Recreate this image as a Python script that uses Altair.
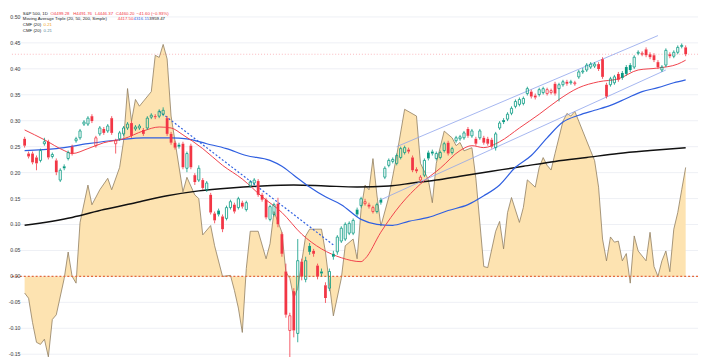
import altair as alt
import pandas as pd
import numpy as np

# ---------------- data ----------------
# daily candles (price units), index 0..167
opens = [4030,3955,3955,3935,3920,4005,4015,3940,3920,3820,
         3890,3930,3990,4020,4035,4105,4105,4145,3995,4055,
         4080,4070,4135,4005,4030,4055,4085,4110,4080,4085,
         4075,4085,4140,4145,4145,4155,4135,4055,4010,4000,
         4005,3880,3995,3845,3820,3820,3770,3745,3650,3665,
         3635,3625,3680,3695,3680,3705,3670,3790,3805,3815,
         3745,3720,3620,3645,3700,3545,3355,3055,3255,3040,
         3405,3315,3485,3460,3385,3355,3285,3270,3445,3455,
         3510,3520,3550,3550,3670,3690,3700,3695,3660,3660,
         3720,3835,3895,3915,3905,3935,3960,3975,3935,3875,
         3820,3845,3960,3965,3930,3935,3970,4010,3960,4020,
         4030,4035,4080,4045,4030,4035,4035,4030,4025,3985,
         4085,4125,4130,4160,4195,4205,4210,4260,4270,4250,
         4255,4265,4260,4265,4310,4285,4305,4320,4315,4310,
         4345,4370,4380,4395,4400,4410,4435,4305,4305,4315,
         4360,4365,4395,4405,4395,4465,4460,4485,4460,4455,
         4420,4380,4405,4460,4450,4470,4500,4495]
closes = [3995,3940,3910,3905,3970,4015,3935,3950,3860,3870,
          3880,3960,3955,4030,4070,4115,4135,4120,4035,4085,
          4060,4095,4060,4020,4060,4085,4105,4045,4090,4095,
          4055,4135,4150,4140,4170,4175,4055,4010,3985,3990,
          3885,3955,3885,3810,3880,3780,3805,3655,3615,3645,
          3570,3680,3710,3660,3725,3685,3705,3810,3820,3745,
          3720,3630,3685,3695,3595,3445,3135,3130,3055,3410,
          3330,3410,3455,3445,3330,3345,3220,3355,3430,3530,
          3575,3595,3600,3615,3645,3725,3710,3685,3680,3695,
          3705,3880,3920,3925,3945,3980,3985,3965,3870,3865,
          3835,3920,3930,3955,3955,3960,4005,3955,3980,4035,
          4040,4060,4045,4070,4005,4070,4010,4005,3990,4055,
          4110,4115,4155,4185,4220,4230,4235,4285,4245,4240,
          4280,4285,4280,4275,4260,4305,4320,4310,4320,4315,
          4370,4375,4405,4410,4410,4385,4345,4245,4335,4345,
          4330,4340,4360,4380,4445,4470,4465,4455,4445,4430,
          4395,4395,4480,4450,4470,4495,4505,4460]
highs = [4040,3965,3965,3945,3980,4035,4025,3960,3930,3880,
         3900,3970,4000,4040,4080,4125,4145,4155,4045,4095,
         4090,4105,4145,4030,4070,4095,4115,4120,4100,4105,
         4085,4145,4160,4155,4180,4190,4145,4065,4020,4010,
         4015,3965,4005,3855,3895,3830,3815,3755,3660,3675,
         3645,3690,3720,3705,3735,3715,3715,3820,3830,3825,
         3755,3730,3695,3705,3730,3555,3395,3145,3270,3520,
         3420,3430,3500,3470,3395,3370,3300,3370,3460,3540,
         3585,3605,3610,3625,3680,3735,3725,3705,3690,3705,
         3730,3890,3930,3935,3955,3990,3995,3985,3945,3885,
         3845,3930,3970,3975,3965,3970,4015,4020,3990,4045,
         4050,4070,4090,4080,4040,4080,4045,4040,4035,4065,
         4120,4135,4165,4195,4230,4240,4245,4295,4280,4260,
         4290,4295,4290,4285,4320,4315,4330,4330,4330,4325,
         4380,4390,4415,4420,4420,4420,4445,4315,4345,4355,
         4370,4375,4405,4415,4455,4480,4475,4495,4470,4465,
         4430,4405,4490,4470,4480,4505,4515,4505]
lows = [3985,3930,3900,3870,3910,3995,3925,3930,3845,3810,
        3870,3920,3945,4010,4025,4095,4095,4110,3985,4045,
        4050,4060,4050,3955,4020,4045,4075,4035,4070,4075,
        4045,4075,4130,4130,4135,4145,4045,4000,3975,3980,
        3875,3860,3875,3795,3810,3770,3760,3645,3600,3635,
        3555,3615,3670,3650,3670,3675,3660,3780,3795,3735,
        3710,3620,3610,3635,3580,3430,3120,2920,3020,2995,
        3310,3300,3440,3430,3315,3330,3195,3255,3415,3440,
        3500,3510,3540,3540,3635,3680,3690,3675,3650,3650,
        3695,3825,3885,3905,3895,3925,3950,3955,3860,3855,
        3810,3835,3920,3945,3920,3925,3960,3945,3950,4010,
        4020,4025,4035,4035,3995,4025,4000,3995,3980,3970,
        4075,4105,4120,4150,4185,4195,4200,4250,4235,4230,
        4245,4255,4250,4255,4250,4220,4295,4300,4305,4300,
        4335,4360,4370,4385,4390,4375,4335,4235,4295,4305,
        4320,4330,4350,4370,4385,4455,4450,4445,4435,4420,
        4385,4370,4395,4440,4440,4460,4490,4450]

# moving averages (bar index, price)
ma20_i = [0,5,10,12,16,20,25,30,34,37,40,45,50,55,60,65,70,75,80,85,86,90,95,100,105,
          110,113,116,120,125,130,135,140,145,150,155,160,165,167]
ma20_v = [4075,4025,3970,3955,3980,4010,4030,4070,4090,4085,4050,3980,3895,3825,3735,3655,
          3545,3470,3425,3405,3420,3555,3695,3800,3880,3970,3995,3985,4015,4085,4155,4230,
          4290,4320,4335,4380,4390,4410,4430]
ma50_i = [0,8,16,24,30,37,41,46,51,56,62,65,68,72,76,80,85,89,93,97,102,107,112,116,120,
          124,128,132,136,140,144,148,152,156,160,164,167]
ma50_v = [3970,3980,4005,4025,4035,4035,4030,4005,3980,3945,3920,3890,3845,3785,3735,3695,
          3620,3595,3590,3610,3630,3665,3695,3740,3795,3885,3945,4035,4115,4150,4175,4200,
          4235,4270,4290,4315,4330]
ma200_i = [0,12,20,28,36,44,52,60,68,76,84,92,98,104,110,118,126,134,142,150,158,167]
ma200_v = [3590,3630,3670,3705,3740,3765,3780,3790,3795,3790,3785,3790,3805,3820,3840,3865,
           3890,3915,3935,3955,3970,3985]

# Chaikin Money Flow (20) (bar index, value)
cmf_i = [0,1,2,3,4,5,6,7,8,10,11,12,13,14,16,17,19,21,22,24,25,26,27,28,29,32,33,34,35,36,
         37,40,41,43,44,45,47,48,50,52,53,54,55,56,57,59,61,62,63,65,66,67,68,69,70,71,72,75,
         76,78,80,81,83,84,85,86,87,88,89,90,92,94,96,99,100,102,103,104,106,108,109,110,111,
         113,114,116,117,119,120,121,122,123,125,126,127,129,130,131,132,133,134,136,137,138,
         139,140,141,143,144,145,146,147,148,149,150,151,152,153,154,155,157,158,159,160,161,
         162,163,164,165,166,167]
cmf_v = [-0.032,-0.042,-0.089,-0.127,-0.131,-0.121,-0.155,-0.083,-0.074,-0.004,
         0.047,0.000,-0.013,0.104,0.176,0.138,0.167,0.189,0.167,0.210,
         0.261,0.362,0.299,0.341,0.328,0.356,0.426,0.422,0.447,0.419,
         0.309,0.163,0.191,0.157,0.150,0.080,0.098,0.059,0.000,0.002,
         -0.027,-0.061,-0.108,0.015,0.087,0.087,0.034,0.063,0.125,0.085,
         0.009,-0.004,-0.042,-0.023,0.028,0.078,0.091,0.091,0.047,-0.076,
         -0.004,0.059,0.072,0.034,0.129,0.176,0.167,0.227,0.157,0.097,
         0.153,0.233,0.322,0.309,0.218,0.186,0.142,0.218,0.280,0.267,
         0.252,0.258,0.242,0.248,0.189,0.019,0.017,0.087,0.106,0.053,
         0.123,0.152,0.104,0.133,0.186,0.172,0.210,0.229,0.214,0.205,
         0.237,0.299,0.314,0.309,0.318,0.299,0.280,0.242,0.223,0.172,
         0.072,0.030,0.076,0.066,0.068,0.030,0.044,-0.013,0.078,0.049,
         0.030,0.085,0.019,0.000,0.030,0.049,0.009,0.091,0.123,0.167,
         0.210]

# drawn trend lines (bar index, price)
down_trend_i = [34, 78]
down_trend_v = [4170, 3490]
chan_up_i = [94, 160]
chan_up_v = [3990, 4555]
chan_lo_i = [90, 162]
chan_lo_v = [3720, 4380]
last_close = [4460]

y_ticks = [0.50, 0.45, 0.40, 0.35, 0.30, 0.25, 0.20, 0.15, 0.10, 0.05, 0.00, -0.05, -0.10, -0.15]
y_tick_labels = ["0.50", "0.45", "0.40", "0.35", "0.30", "0.25", "0.20", "0.15", "0.10",
                 "0.05", "0.00", "-0.05", "-0.10", "-0.15"]

# ---------------- chart ----------------
W, H = 699, 353
UP, DOWN = "#089981", "#f23645"
BLUE = "#2f5fe0"
FONT = "Liberation Sans"

xs = alt.Scale(domain=[-2.45, 168.87], nice=False, zero=False)
cs = alt.Scale(domain=[-0.1572, 0.5114], nice=False, zero=False)
ps = alt.Scale(domain=[2915, 4680], nice=False, zero=False)
dir_scale = alt.Scale(domain=["up", "down"], range=[UP, DOWN])


def X(f="i"):
    return alt.X(f"{f}:Q", scale=xs, axis=None)


def YP(f):
    return alt.Y(f"{f}:Q", scale=ps, axis=None)


def YC(f):
    return alt.Y(f"{f}:Q", scale=cs, axis=None)


cd = pd.DataFrame({"i": range(len(opens)), "open": opens, "high": highs,
                   "low": lows, "close": closes})
cd["prev"] = cd["close"].shift(1).fillna(cd["open"])
cd["dir"] = np.where(cd["close"] >= cd["prev"], "up", "down")
cd["top"] = cd[["open", "close"]].max(axis=1)
cd["bot"] = cd[["open", "close"]].min(axis=1)
cd["hollow"] = cd["close"] > cd["open"]

cmf = pd.DataFrame({"i": cmf_i, "v": cmf_v})
ticks = pd.DataFrame({"v": y_ticks, "lab": y_tick_labels})

grid_h = alt.Chart(ticks).mark_rule(color="#eef0f5", strokeWidth=1).encode(y=YC("v"))
tick_text = alt.Chart(ticks).mark_text(
    align="right", baseline="middle", fontSize=5.2, font=FONT, color="#3c3c3c").encode(
    y=YC("v"), x=alt.value(10.5), text="lab:N")

area = alt.Chart(cmf).mark_area(color="#fde3b1", opacity=1).encode(
    x=X(), y=YC("v"), y2=alt.datum(0))
cmf_line = alt.Chart(cmf).mark_line(color="#8f7d60", strokeWidth=0.8).encode(
    x=X(), y=YC("v"))
zero = alt.Chart(pd.DataFrame({"v": [0.0]})).mark_rule(
    color="#e4693d", strokeDash=[2, 2], strokeWidth=1.2).encode(y=YC("v"))

last_line = alt.Chart(pd.DataFrame({"p": last_close})).mark_rule(
    color=DOWN, strokeDash=[1, 2], strokeWidth=1, opacity=0.35).encode(y=YP("p"))


def ma_layer(ii, vv, color, w):
    return alt.Chart(pd.DataFrame({"i": ii, "p": vv})).mark_line(
        color=color, strokeWidth=w, interpolate="monotone").encode(x=X(), y=YP("p"))


ma200 = ma_layer(ma200_i, ma200_v, "#111111", 1.5)
ma50 = ma_layer(ma50_i, ma50_v, BLUE, 1.2)
ma20 = ma_layer(ma20_i, ma20_v, "#f0424c", 1.0)

base = alt.Chart(cd)
col = alt.Color("dir:N", scale=dir_scale, legend=None)
wick_hi = base.mark_rule(strokeWidth=0.8).encode(x=X(), y=YP("high"), y2="top:Q", color=col)
wick_lo = base.mark_rule(strokeWidth=0.8).encode(x=X(), y=YP("bot"), y2="low:Q", color=col)
body_fill = base.transform_filter("!datum.hollow").mark_bar(size=2.8).encode(
    x=X(), y=YP("top"), y2="bot:Q", color=col)
body_hollow = base.transform_filter("datum.hollow").mark_bar(
    size=2.2, fill="transparent", strokeWidth=0.8).encode(
    x=X(), y=YP("top"), y2="bot:Q", stroke=alt.Stroke("dir:N", scale=dir_scale, legend=None))


def seg(ii, vv, color, w, dash=None):
    kw = dict(color=color, strokeWidth=w)
    if dash:
        kw["strokeDash"] = dash
    return alt.Chart(pd.DataFrame({"i": ii, "p": vv})).mark_line(**kw).encode(x=X(), y=YP("p"))


down_trend = seg(down_trend_i, down_trend_v, BLUE, 1.2, [2, 2])
chan_up = seg(chan_up_i, chan_up_v, "#8ea4ec", 0.8)
chan_lo = seg(chan_lo_i, chan_lo_v, "#8ea4ec", 0.8)


def txt(s, x, y, color="#131722"):
    return alt.Chart(pd.DataFrame({"t": [s]})).mark_text(
        align="left", baseline="middle", fontSize=4.4, font=FONT, color=color).encode(
        text="t:N", x=alt.value(x), y=alt.value(y))


L1, L2, L3, L4 = 2.6, 8.2, 14.2, 20.6
legend = [
    txt("S&P 500, 1D", 13, L1),
    txt("O4499.28", 41, L1, DOWN), txt("H4491.76", 64, L1, DOWN),
    txt("L4446.37", 86, L1, DOWN), txt("C4460.20", 107, L1, DOWN),
    txt("\u221241.60 (\u22120.93%)", 128, L1, DOWN),
    txt("Moving Average Triple (20, 50, 200, Simple)", 13, L2),
    txt("4417.50", 109, L2, DOWN), txt("4316.15", 125, L2, BLUE),
    txt("3959.47", 141, L2, "#111111"),
    txt("CMF (20)", 13, L3), txt("0.21", 34, L3, "#f0a020"),
    txt("CMF (20)", 13, L4), txt("0.21", 34, L4, "#5b8a9a"),
]

chart = alt.layer(
    grid_h, area, cmf_line, zero, last_line, ma200, ma50, ma20,
    down_trend, chan_up, chan_lo, wick_hi, wick_lo, body_fill, body_hollow,
    tick_text, *legend
).resolve_scale(y="independent").properties(
    width=W, height=H, padding=0,
    autosize=alt.AutoSizeParams(type="fit", contains="padding"),
    background="white",
).configure_view(stroke=None)

chart.save("out.html", embed_options={"renderer": "svg", "actions": False})
